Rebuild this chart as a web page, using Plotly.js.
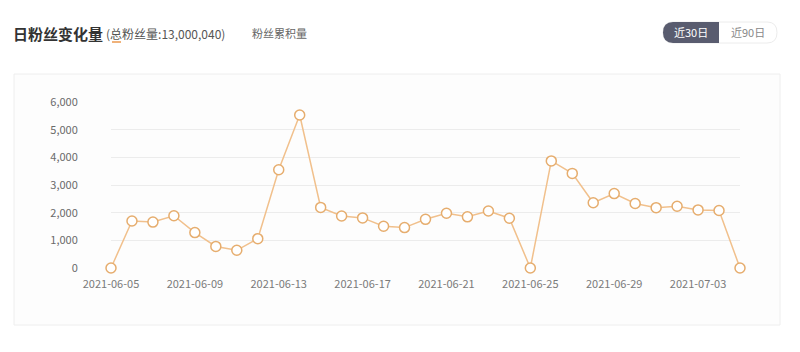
<!DOCTYPE html>
<html>
<head>
<meta charset="utf-8">
<script src="https://cdn.plot.ly/plotly-3.0.1.min.js"></script>
<style>
html,body{margin:0;padding:0;background:#fff;}
#chart{width:800px;height:352px;}
</style>
</head>
<body>
<div id="chart"></div>
<script>
const dates = ['2021-06-05','2021-06-06','2021-06-07','2021-06-08','2021-06-09','2021-06-10','2021-06-11','2021-06-12','2021-06-13','2021-06-14','2021-06-15','2021-06-16','2021-06-17','2021-06-18','2021-06-19','2021-06-20','2021-06-21','2021-06-22','2021-06-23','2021-06-24','2021-06-25','2021-06-26','2021-06-27','2021-06-28','2021-06-29','2021-06-30','2021-07-01','2021-07-02','2021-07-03','2021-07-04','2021-07-05'];
const fansChange = [0,1700,1660,1890,1280,780,640,1060,3550,5530,2190,1880,1810,1510,1460,1760,1980,1850,2060,1800,0,3870,3420,2360,2690,2330,2180,2230,2100,2080,0];
const xTickVals = ['2021-06-05','2021-06-09','2021-06-13','2021-06-17','2021-06-21','2021-06-25','2021-06-29','2021-07-03'];
const yTickVals = [0,1000,2000,3000,4000,5000,6000];
const yTickText = ['0','1,000','2,000','3,000','4,000','5,000','6,000'];
const titleText = '日粉丝变化量';
const subtitleText = '(总粉丝量:13,000,040)';
const tabText = '粉丝累积量';
const buttonLabels = ['近30日','近90日'];

const L=111, R=740, T=101, B=269;
const px = x => (x-L)/(R-L);
const py = y => (B-y)/(B-T);
const font = '"Noto Sans CJK SC", "Noto Sans", sans-serif';

const trace = {
  x: dates, y: fansChange, type:'scatter', mode:'lines+markers',
  line:{color:'#f1c08c', width:1.5},
  marker:{size:10, color:'#ffffff', line:{color:'#e6ad6e', width:1.5}},
  cliponaxis:false, hoverinfo:'x+y'
};

const layout = {
  width:800, height:352,
  margin:{l:L, r:800-R, t:T, b:352-B},
  paper_bgcolor:'rgba(0,0,0,0)', plot_bgcolor:'rgba(0,0,0,0)',
  showlegend:false,
  font:{family:font, size:11, color:'#777'},
  xaxis:{type:'date', range:['2021-06-05','2021-07-05'], tickvals:xTickVals, tickformat:'%Y-%m-%d',
    showgrid:false, zeroline:false, showline:false, ticks:'outside', ticklen:5, tickcolor:'rgba(0,0,0,0)',
    tickfont:{size:11, color:'#7a7a7a', family:font}},
  yaxis:{range:[-36,6036], tickvals:yTickVals, ticktext:yTickText, showgrid:true, gridcolor:'#ececec', gridwidth:1,
    zeroline:false, showline:false, ticks:'outside', ticklen:30, tickcolor:'rgba(0,0,0,0)',
    tickfont:{size:11, color:'#6a6a6a', family:font}},
  shapes:[
    {type:'rect', xref:'paper', yref:'paper', x0:px(14), x1:px(780), y0:py(325), y1:py(74),
     line:{color:'#eeeeee', width:1}, fillcolor:'#fdfdfd', layer:'below'},
    {type:'rect', xref:'paper', yref:'paper', x0:px(112), x1:px(121), y0:py(43), y1:py(41),
     line:{width:0}, fillcolor:'#f0b27a'},
    {type:'path', xref:'paper', yref:'paper',
     path:`M ${px(673)} ${py(22)} L ${px(767)} ${py(22)} Q ${px(777)} ${py(22)} ${px(777)} ${py(32.5)} Q ${px(777)} ${py(43)} ${px(767)} ${py(43)} L ${px(673)} ${py(43)} Q ${px(663)} ${py(43)} ${px(663)} ${py(32.5)} Q ${px(663)} ${py(22)} ${px(673)} ${py(22)} Z`,
     line:{color:'#ececec', width:1}, fillcolor:'#ffffff'},
    {type:'path', xref:'paper', yref:'paper',
     path:`M ${px(673)} ${py(22)} L ${px(719)} ${py(22)} L ${px(719)} ${py(43)} L ${px(673)} ${py(43)} Q ${px(663)} ${py(43)} ${px(663)} ${py(32.5)} Q ${px(663)} ${py(22)} ${px(673)} ${py(22)} Z`,
     line:{width:0}, fillcolor:'#595c6f'}
  ],
  annotations:[
    {xref:'paper', yref:'paper', x:px(11), y:py(33), xanchor:'left', yanchor:'middle', showarrow:false,
     text:'<b>'+titleText+'</b>', font:{family:font, size:15, color:'#333333'}},
    {xref:'paper', yref:'paper', x:px(104), y:py(33), xanchor:'left', yanchor:'middle', showarrow:false,
     text:subtitleText, font:{family:font, size:12, color:'#555555'}},
    {xref:'paper', yref:'paper', x:px(250), y:py(33), xanchor:'left', yanchor:'middle', showarrow:false,
     text:tabText, font:{family:font, size:11, color:'#666666'}},
    {xref:'paper', yref:'paper', x:px(691), y:py(32.5), xanchor:'center', yanchor:'middle', showarrow:false,
     text:buttonLabels[0], font:{family:font, size:11, color:'#ffffff'}},
    {xref:'paper', yref:'paper', x:px(748), y:py(32.5), xanchor:'center', yanchor:'middle', showarrow:false,
     text:buttonLabels[1], font:{family:font, size:11, color:'#888888'}}
  ]
};

Plotly.newPlot('chart', [trace], layout, {displayModeBar:false, staticPlot:true});
</script>
</body>
</html>
